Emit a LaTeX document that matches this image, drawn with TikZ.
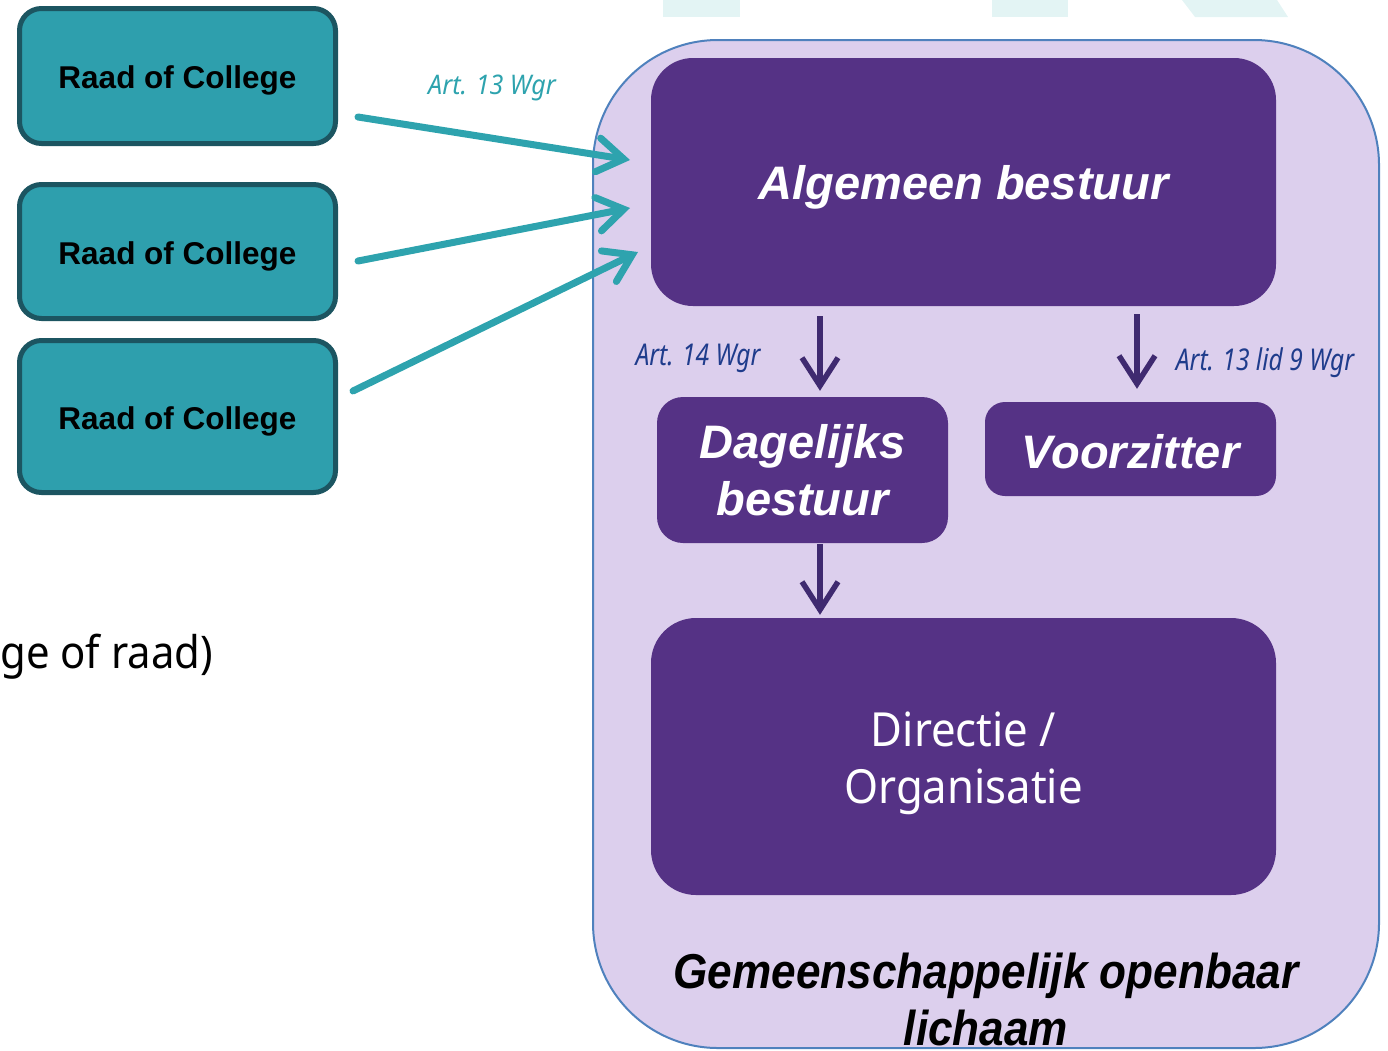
\documentclass[tikz,border=0pt]{standalone}
\usepackage{fontspec}
\setmainfont{Liberation Sans}
\newfontfamily\condbi[FakeStretch=0.9]{Liberation Sans}
\newfontfamily\robo[FakeStretch=0.93]{Noto Sans}
\newfontfamily\robocond[FakeStretch=0.82]{Noto Sans}
\usetikzlibrary{arrows.meta}
\definecolor{tealbox}{HTML}{2E9FAD}
\definecolor{tealedge}{HTML}{1C5561}
\definecolor{tealarrow}{HTML}{2EA3AE}
\definecolor{purplebox}{HTML}{553285}
\definecolor{lavender}{HTML}{DCCFED}
\definecolor{contedge}{HTML}{4F81BD}
\definecolor{darkarrow}{HTML}{3F2A70}
\definecolor{labelblue}{HTML}{1F3C8C}
\definecolor{faint}{HTML}{E3F4F4}
\begin{document}
\begin{tikzpicture}[x=1pt,y=-1pt,
  raad/.style={draw=tealedge, line width=5pt, fill=tealbox, rounded corners=22pt,
    minimum width=316pt, inner sep=0pt, text=black, text height=25pt, text depth=0pt,
    font=\fontsize{31.5}{36}\selectfont\bfseries},
  pbox/.style={fill=purplebox, draw=none, inner sep=0pt, text=white},
  bitext/.style={font=\fontsize{47}{57}\selectfont\bfseries\itshape},
  tarr/.style={draw=tealarrow, line width=7pt, line cap=round,
    -{Straight Barb[length=26pt,width=34pt,line cap=round]}},
  darr/.style={draw=darkarrow, line width=5.5pt,
    -{Straight Barb[length=28pt,width=36pt]}},
  lbl/.style={inner sep=0pt, font=\fontsize{30}{36}\selectfont\robocond\itshape, text=labelblue}
]
\useasboundingbox (0,0) rectangle (1388,1050);
% faint background shapes
\fill[faint] (663,0) rectangle (740,17);
\fill[faint] (992,0) rectangle (1068,17);
\fill[faint] (1182,0) -- (1277,0) -- (1288,17) -- (1195,17) -- cycle;

% container
\draw[fill=lavender, draw=contedge, line width=2pt, rounded corners=125pt]
  (593,40) rectangle (1379,1048);

% left boxes
\node[raad, minimum height=135pt] (r1) at (177.5,76) {Raad of College};
\node[raad, minimum height=134pt] (r2) at (177.5,251.5) {Raad of College};
\node[raad, minimum height=152pt] (r3) at (177.5,416.5) {Raad of College};

\node[anchor=base east, inner sep=0pt, font=\fontsize{45}{54}\selectfont\robo] (txt) at (213,668) {ge of raad)};

% purple boxes
\node[pbox, rounded corners=42pt, minimum width=625pt, minimum height=248pt, bitext,
  text height=34pt, text depth=0pt] (ab) at (963.5,182) {Algemeen bestuur};
\node[pbox, align=center, rounded corners=26pt, minimum width=291pt, minimum height=146pt, bitext] (db) at (802.5,470) {Dagelijks\\bestuur};
\node[pbox, rounded corners=20pt, minimum width=291pt, minimum height=94pt, bitext,
  text height=38pt, text depth=0pt] (vz) at (1130.5,449) {Voorzitter};
\node[pbox, rounded corners=45pt, minimum width=625pt, minimum height=277pt,
  font=\fontsize{47}{57}\selectfont\robo, text height=40pt, text depth=61pt] (dir) at (963.5,756.5)
  {\begin{tabular}[t]{@{}c@{}}Directie /\\Organisatie\end{tabular}};

\node[inner sep=0pt, align=center, font=\fontsize{49}{57}\selectfont\condbi\bfseries\itshape] (gol) at (986,999) {Gemeenschappelijk openbaar\\lichaam};

% teal arrows
\coordinate (s1) at (358,117);
\coordinate (e1) at (630,160);
\coordinate (s2) at (358,261);
\coordinate (e2) at (630,208);
\coordinate (s3) at (353,391);
\coordinate (e3) at (638,252);
\draw[tarr] (s1) -- (e1);
\draw[tarr] (s2) -- (e2);
\draw[tarr] (s3) -- (e3);
\node[inner sep=0pt, text=tealarrow, font=\fontsize{27}{32}\selectfont\robo\itshape] (l13) at (492,88) {Art. 13 Wgr};

% dark arrows
\coordinate (xa) at (820,0);
\coordinate (xb) at (1137,0);
\draw[darr, shorten <=10pt, shorten >=6pt] (ab.south -| xa) -- (db.north -| xa);
\draw[darr, shorten <=8pt, shorten >=13pt] (ab.south -| xb) -- (vz.north -| xb);
\draw[darr, shorten <=1pt, shorten >=3pt] (db.south -| xa) -- (dir.north -| xa);
\node[lbl] (l14) at (698,358) {Art. 14 Wgr};
\node[lbl] (l139) at (1265,363) {Art. 13 lid 9 Wgr};
\end{tikzpicture}
\end{document}
